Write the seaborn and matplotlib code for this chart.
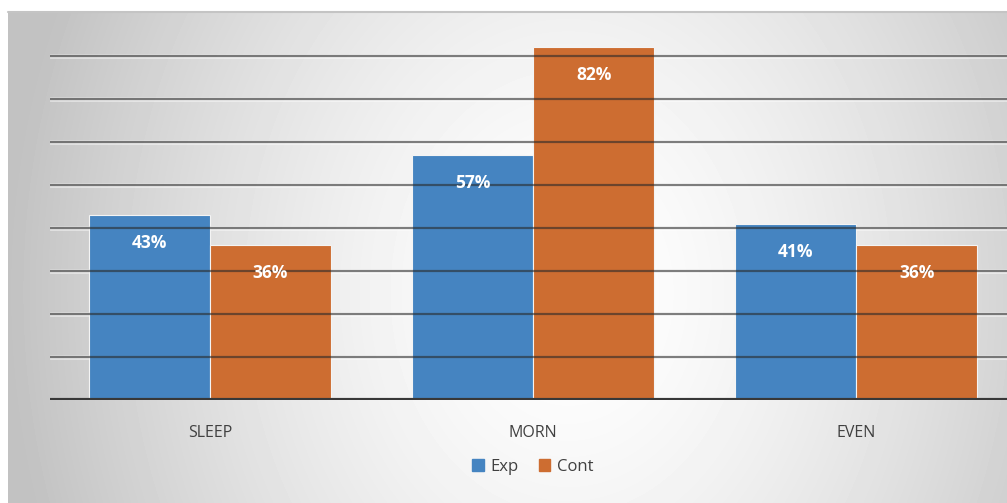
import matplotlib
matplotlib.use("Agg")
import matplotlib.pyplot as plt
import seaborn as sns
import pandas as pd
import numpy as np

categories = ["SLEEP", "MORN", "EVEN"]
series = ["Exp", "Cont"]
exp_values = [43, 57, 41]
cont_values = [36, 82, 36]
bar_colors = ["#4584C1", "#CD6D31"]

df = pd.DataFrame({
    "time": categories * 2,
    "group": ["Exp"] * 3 + ["Cont"] * 3,
    "value": exp_values + cont_values,
})

sns.set_style("white")
plt.rcParams["font.family"] = ["Open Sans", "DejaVu Sans"]

W, H = 1007, 503
fig = plt.figure(figsize=(W / 100, H / 100), dpi=100)

# gradient background (chart area of the slide)
bg = fig.add_axes([8 / W, 0, 1 - 8 / W, 1 - 12 / H])
yy, xx = np.mgrid[0:491, 0:999]
cx, cy = 560, 280
r = np.sqrt(((xx - cx) / 560) ** 2 + ((yy - cy) / 700) ** 2)
shade = np.clip(1 - 0.24 * r ** 1.5, 0.76, 1.0)
bg.imshow(shade, cmap="gray", vmin=0, vmax=1, aspect="auto", interpolation="bilinear")
bg.axis("off")
fig.add_artist(plt.Line2D([8 / W, 1], [1 - 12 / H] * 2, color="#c4c4c4", lw=1.5))

ax = fig.add_axes([50 / W, 1 - 400 / H, 1 - 50 / W, (400 - 12) / H])
ax.patch.set_alpha(0)

sns.barplot(data=df, x="time", y="value", hue="group", hue_order=series,
            palette=bar_colors, width=0.75, gap=0.0, saturation=1,
            edgecolor="#f4f4f4", linewidth=0.8, ax=ax, legend=False, zorder=2)

ax.set_xlim(-0.495, 2.467)
ax.set_ylim(0, 90.2)
for v in range(10, 90, 10):
    ax.axhline(v, color="#ffffff", lw=3.4, alpha=0.5, zorder=1)
    ax.axhline(v, color="#2a2a2a", lw=1.6, alpha=0.6, zorder=3)
ax.axhline(0, color="#383838", lw=3, zorder=4)

for container in ax.containers:
    for bar in container:
        h = bar.get_height()
        ax.text(bar.get_x() + bar.get_width() / 2, h - 6.5, f"{h:.0f}%",
                ha="center", va="center", color="white", fontsize=12.5,
                fontweight="bold", zorder=5)

ax.set_xlabel("")
ax.set_ylabel("")
ax.set_yticks([])
ax.tick_params(axis="x", length=0, pad=18, labelsize=11.5, labelcolor="#404040")
for s in ax.spines.values():
    s.set_visible(False)

handles = [plt.Rectangle((0, 0), 1, 1, color=c) for c in bar_colors]
fig.legend(handles, series, loc="center", bbox_to_anchor=(533 / W, 1 - 467 / H),
           ncol=2, frameon=False, fontsize=12, handlelength=0.7, handleheight=0.7,
           handletextpad=0.4, columnspacing=1.2, labelcolor="#404040")

fig.savefig("out.png", dpi=100)
